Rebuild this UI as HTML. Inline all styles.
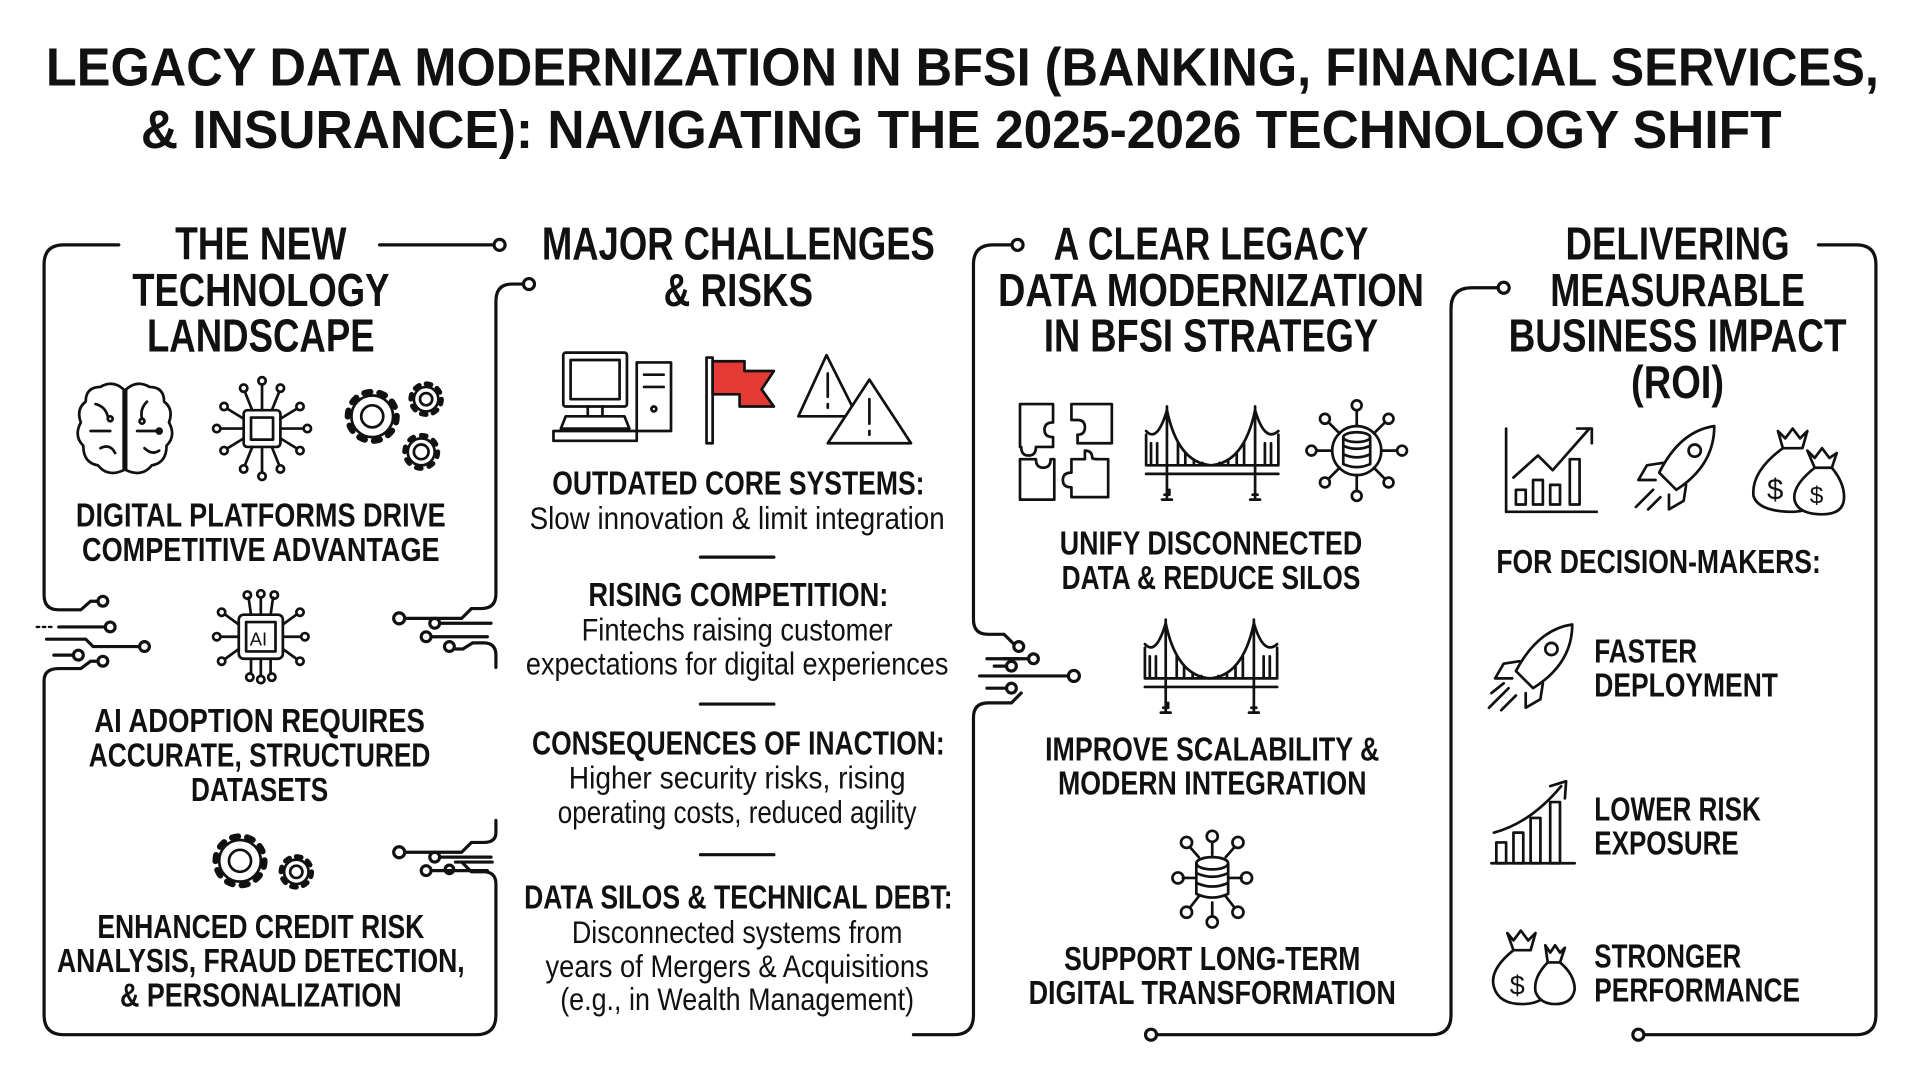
<!DOCTYPE html>
<html><head><meta charset="utf-8"><style>
html,body{margin:0;padding:0;background:#fff;}
svg{display:block;}
text{font-family:"Liberation Sans",sans-serif;fill:#111;}
.h{font-weight:bold;font-size:38px;}
.b{font-weight:bold;font-size:27px;}
.r{font-size:26px;}
.t{font-weight:bold;font-size:44px;}
</style></head><body>
<svg width="1920" height="1080" viewBox="0 0 1568 882" xmlns="http://www.w3.org/2000/svg">
<rect width="1568" height="882" fill="#fff"/>
<text class="t" x="786" y="70" text-anchor="middle" textLength="1497" lengthAdjust="spacingAndGlyphs">LEGACY DATA MODERNIZATION IN BFSI (BANKING, FINANCIAL SERVICES,</text>
<text class="t" x="785" y="121" text-anchor="middle" textLength="1340" lengthAdjust="spacingAndGlyphs">&amp; INSURANCE): NAVIGATING THE 2025-2026 TECHNOLOGY SHIFT</text>

<g fill="none" stroke="#111" stroke-width="2.6" stroke-linecap="round">
<path d="M97,200 H52 Q36,200 36,216 V486 Q36,498 48,498 H66 L74,491 H80"/>
<circle cx="84" cy="491" r="4"/>
<path d="M48,512 H86" /><circle cx="90" cy="512" r="4"/>
<path d="M30,512 H44" stroke-dasharray="2 3" stroke-width="2"/>
<path d="M38,522 H70 L76,528 H114"/><circle cx="118" cy="528" r="4"/>
<path d="M44,535 H60"/><circle cx="64" cy="535" r="4"/>
<path d="M36,568 V556 Q36,546 48,546 H66 L74,540 H80"/><circle cx="84" cy="540" r="4"/>
<path d="M36,568 V829 Q36,845 52,845 H389 Q405,845 405,829 V722 Q405,712 395,712 H385 L377,704"/>
<path d="M310,200 H403"/><circle cx="408" cy="200" r="4.5"/>
<path d="M427,232 H418 Q405,232 405,246 V485 Q405,497 393,497 H385 L377,505 H331"/><circle cx="326" cy="505" r="4.5"/>
<path d="M401,509 H360"/><circle cx="355" cy="509" r="4"/>
<path d="M398,520 H353"/><circle cx="348" cy="520" r="4"/>
<path d="M405,545 V535 Q405,525 395,525 H386 L378,530 H372"/><circle cx="367" cy="528" r="4"/>
<circle cx="432" cy="232" r="4.5"/>
<path d="M405,670 V680 Q405,688 395,688 H385 L377,696 H331"/><circle cx="326" cy="696" r="4.5"/>
<path d="M401,700 H360"/><circle cx="355" cy="700" r="4"/>
<path d="M398,711 H353"/><circle cx="348" cy="711" r="4"/>
<path d="M402,704 H372"/><circle cx="367" cy="710" r="3.5"/>

<circle cx="831" cy="200" r="4.5"/>
<path d="M826,200 H811 Q795,200 795,216 V506 Q795,518 807,518 H820 L828,526"/><circle cx="832" cy="528" r="4"/>
<path d="M806,538 H840"/><circle cx="844" cy="538" r="4"/>
<path d="M812,544 H822"/><circle cx="826" cy="544" r="4"/>
<path d="M800,552 H872"/><circle cx="877" cy="552" r="4.5"/>
<path d="M806,562 H822"/><circle cx="826" cy="562" r="4"/>
<path d="M834,566 L826,574 H807 Q795,574 795,586 V829 Q795,845 779,845 H746"/>
<path d="M820,538 H832"/>

<circle cx="940" cy="845" r="4.5"/>
<path d="M945,845 H1169 Q1185,845 1185,829 V252 Q1185,235 1202,235 H1223"/>
<circle cx="1228" cy="235" r="4.5"/>
<path d="M1485,200 H1516 Q1532,200 1532,216 V829 Q1532,845 1516,845 H1343"/>
<circle cx="1338" cy="845" r="4.5"/>

<path d="M572,455 H632"/><path d="M572,575 H632"/><path d="M572,698 H632"/>
</g>

<text class="h" x="213" y="212" text-anchor="middle" textLength="140" lengthAdjust="spacingAndGlyphs">THE NEW</text>
<text class="h" x="213" y="250" text-anchor="middle" textLength="210" lengthAdjust="spacingAndGlyphs">TECHNOLOGY</text>
<text class="h" x="213" y="287" text-anchor="middle" textLength="186" lengthAdjust="spacingAndGlyphs">LANDSCAPE</text>

<text class="h" x="603" y="212" text-anchor="middle" textLength="321" lengthAdjust="spacingAndGlyphs">MAJOR CHALLENGES</text>
<text class="h" x="603" y="250" text-anchor="middle" textLength="122" lengthAdjust="spacingAndGlyphs">&amp; RISKS</text>

<text class="h" x="989" y="212" text-anchor="middle" textLength="257" lengthAdjust="spacingAndGlyphs">A CLEAR LEGACY</text>
<text class="h" x="989" y="250" text-anchor="middle" textLength="348" lengthAdjust="spacingAndGlyphs">DATA MODERNIZATION</text>
<text class="h" x="989" y="287" text-anchor="middle" textLength="273" lengthAdjust="spacingAndGlyphs">IN BFSI STRATEGY</text>

<text class="h" x="1370" y="212" text-anchor="middle" textLength="183" lengthAdjust="spacingAndGlyphs">DELIVERING</text>
<text class="h" x="1370" y="250" text-anchor="middle" textLength="208" lengthAdjust="spacingAndGlyphs">MEASURABLE</text>
<text class="h" x="1370" y="287" text-anchor="middle" textLength="276" lengthAdjust="spacingAndGlyphs">BUSINESS IMPACT</text>
<text class="h" x="1370" y="325" text-anchor="middle" textLength="76" lengthAdjust="spacingAndGlyphs">(ROI)</text>

<text class="b" x="213" y="430" text-anchor="middle" textLength="302" lengthAdjust="spacingAndGlyphs">DIGITAL PLATFORMS DRIVE</text>
<text class="b" x="213" y="458" text-anchor="middle" textLength="292" lengthAdjust="spacingAndGlyphs">COMPETITIVE ADVANTAGE</text>
<text class="b" x="212" y="598" text-anchor="middle" textLength="270" lengthAdjust="spacingAndGlyphs">AI ADOPTION REQUIRES</text>
<text class="b" x="212" y="626" text-anchor="middle" textLength="279" lengthAdjust="spacingAndGlyphs">ACCURATE, STRUCTURED</text>
<text class="b" x="212" y="654" text-anchor="middle" textLength="112" lengthAdjust="spacingAndGlyphs">DATASETS</text>
<text class="b" x="213" y="766" text-anchor="middle" textLength="267" lengthAdjust="spacingAndGlyphs">ENHANCED CREDIT RISK</text>
<text class="b" x="213" y="794" text-anchor="middle" textLength="333" lengthAdjust="spacingAndGlyphs">ANALYSIS, FRAUD DETECTION,</text>
<text class="b" x="213" y="822" text-anchor="middle" textLength="230" lengthAdjust="spacingAndGlyphs">&amp; PERSONALIZATION</text>

<text class="b" x="603" y="404" text-anchor="middle" textLength="304" lengthAdjust="spacingAndGlyphs">OUTDATED CORE SYSTEMS:</text>
<text class="r" x="602" y="432" text-anchor="middle" textLength="339" lengthAdjust="spacingAndGlyphs">Slow innovation &amp; limit integration</text>
<text class="b" x="603" y="495" text-anchor="middle" textLength="245" lengthAdjust="spacingAndGlyphs">RISING COMPETITION:</text>
<text class="r" x="602" y="523" text-anchor="middle" textLength="254" lengthAdjust="spacingAndGlyphs">Fintechs raising customer</text>
<text class="r" x="602" y="551" text-anchor="middle" textLength="345" lengthAdjust="spacingAndGlyphs">expectations for digital experiences</text>
<text class="b" x="603" y="616" text-anchor="middle" textLength="337" lengthAdjust="spacingAndGlyphs">CONSEQUENCES OF INACTION:</text>
<text class="r" x="602" y="644" text-anchor="middle" textLength="275" lengthAdjust="spacingAndGlyphs">Higher security risks, rising</text>
<text class="r" x="602" y="672" text-anchor="middle" textLength="293" lengthAdjust="spacingAndGlyphs">operating costs, reduced agility</text>
<text class="b" x="603" y="742" text-anchor="middle" textLength="350" lengthAdjust="spacingAndGlyphs">DATA SILOS &amp; TECHNICAL DEBT:</text>
<text class="r" x="602" y="770" text-anchor="middle" textLength="270" lengthAdjust="spacingAndGlyphs">Disconnected systems from</text>
<text class="r" x="602" y="798" text-anchor="middle" textLength="313" lengthAdjust="spacingAndGlyphs">years of Mergers &amp; Acquisitions</text>
<text class="r" x="602" y="825" text-anchor="middle" textLength="289" lengthAdjust="spacingAndGlyphs">(e.g., in Wealth Management)</text>

<text class="b" x="989" y="453" text-anchor="middle" textLength="247" lengthAdjust="spacingAndGlyphs">UNIFY DISCONNECTED</text>
<text class="b" x="989" y="481" text-anchor="middle" textLength="244" lengthAdjust="spacingAndGlyphs">DATA &amp; REDUCE SILOS</text>
<text class="b" x="990" y="621" text-anchor="middle" textLength="273" lengthAdjust="spacingAndGlyphs">IMPROVE SCALABILITY &amp;</text>
<text class="b" x="990" y="649" text-anchor="middle" textLength="252" lengthAdjust="spacingAndGlyphs">MODERN INTEGRATION</text>
<text class="b" x="990" y="792" text-anchor="middle" textLength="242" lengthAdjust="spacingAndGlyphs">SUPPORT LONG-TERM</text>
<text class="b" x="990" y="820" text-anchor="middle" textLength="300" lengthAdjust="spacingAndGlyphs">DIGITAL TRANSFORMATION</text>

<text class="b" x="1222" y="468" textLength="265" lengthAdjust="spacingAndGlyphs">FOR DECISION-MAKERS:</text>
<text class="b" x="1302" y="541" textLength="84" lengthAdjust="spacingAndGlyphs">FASTER</text>
<text class="b" x="1302" y="569" textLength="150" lengthAdjust="spacingAndGlyphs">DEPLOYMENT</text>
<text class="b" x="1302" y="670" textLength="136" lengthAdjust="spacingAndGlyphs">LOWER RISK</text>
<text class="b" x="1302" y="698" textLength="118" lengthAdjust="spacingAndGlyphs">EXPOSURE</text>
<text class="b" x="1302" y="790" textLength="120" lengthAdjust="spacingAndGlyphs">STRONGER</text>
<text class="b" x="1302" y="818" textLength="168" lengthAdjust="spacingAndGlyphs">PERFORMANCE</text>

<g fill="none" stroke="#111" stroke-width="2.2" stroke-linecap="round" stroke-linejoin="round">
<path d="M101,318 Q92,310 82,316 Q70,316 70,328 Q62,334 66,345 Q60,356 68,364 Q68,378 80,380 Q88,390 101,384 Z"/>
<path d="M103,318 Q112,310 122,316 Q134,316 134,328 Q142,334 138,345 Q144,356 136,364 Q136,378 124,380 Q116,390 103,384 Z"/>
<path d="M78,330 Q86,332 88,340 M74,352 H90 M82,366 Q90,362 94,370 M120,328 Q114,334 116,342 M112,352 H130 M118,366 Q124,372 130,368"/>
<circle cx="90" cy="342" r="2"/><circle cx="116" cy="344" r="2"/><circle cx="130" cy="352" r="2"/>
<rect x="199" y="335" width="30" height="30" rx="3"/><rect x="205" y="341" width="18" height="18"/>
<path d="M214,335 V314 M206,335 L200,320 M222,335 L228,320 M214,365 V386 M206,365 L200,380 M222,365 L228,380 M199,350 H180 M229,350 H248 M199,342 L186,334 M199,358 L186,366 M229,342 L242,334 M229,358 L242,366"/>
<circle cx="214" cy="311" r="3"/><circle cx="199" cy="317" r="3"/><circle cx="229" cy="317" r="3"/><circle cx="214" cy="389" r="3"/><circle cx="199" cy="383" r="3"/><circle cx="229" cy="383" r="3"/><circle cx="177" cy="350" r="3"/><circle cx="251" cy="350" r="3"/><circle cx="183" cy="332" r="3"/><circle cx="183" cy="368" r="3"/><circle cx="245" cy="332" r="3"/><circle cx="245" cy="368" r="3"/>
<circle cx="304" cy="340" r="17"/><circle cx="304" cy="340" r="20" stroke-width="5" stroke-dasharray="5 7.5"/><circle cx="304" cy="340" r="9"/>
<circle cx="348" cy="326" r="10"/><circle cx="348" cy="326" r="12.5" stroke-width="4" stroke-dasharray="4 5.8"/><circle cx="348" cy="326" r="5"/>
<circle cx="344" cy="369" r="11"/><circle cx="344" cy="369" r="13.5" stroke-width="4" stroke-dasharray="4 6.6"/><circle cx="344" cy="369" r="6"/>
<rect x="195" y="502" width="36" height="36" rx="4"/><rect x="201" y="508" width="24" height="24"/>
<path d="M213,502 V488 M205,502 L203,488 M221,502 L223,488 M213,538 V552 M205,538 V550 M221,538 V550 M195,520 H180 M231,520 H246 M195,510 L184,502 M195,530 L184,538 M231,510 L242,502 M231,530 L242,538"/>
<circle cx="213" cy="485" r="3"/><circle cx="202" cy="486" r="3"/><circle cx="224" cy="486" r="3"/><circle cx="213" cy="555" r="3"/><circle cx="204" cy="553" r="3"/><circle cx="222" cy="553" r="3"/><circle cx="177" cy="520" r="3"/><circle cx="249" cy="520" r="3"/><circle cx="181" cy="500" r="3"/><circle cx="181" cy="540" r="3"/><circle cx="245" cy="500" r="3"/><circle cx="245" cy="540" r="3"/>
<circle cx="196" cy="703" r="17"/><circle cx="196" cy="703" r="20" stroke-width="5" stroke-dasharray="5 7.5"/><circle cx="196" cy="703" r="9"/>
<circle cx="242" cy="712" r="10"/><circle cx="242" cy="712" r="12.5" stroke-width="4" stroke-dasharray="4 5.8"/><circle cx="242" cy="712" r="5"/>
<rect x="460" y="288" width="52" height="44" rx="2"/><rect x="466" y="294" width="40" height="32"/>
<path d="M480,332 V340 M492,332 V340 M462,340 H510 L514,350 H458 Z M452,352 H520 V360 H452 Z"/>
<rect x="520" y="296" width="28" height="56"/><path d="M526,306 H542 M526,316 H542"/><circle cx="534" cy="334" r="2"/>
<path d="M577,292 V362 H582 V292 Z"/>
<path d="M582,295 H608 V303 H632 L622,318 L632,332 H604 V322 H582 Z" fill="#e53935"/>
<path d="M675,290 L700,340 H652 Z"/><path d="M676,305 V324 M676,330 V333"/>
<path d="M710,310 L744,362 H676 Z" fill="#fff"/><path d="M710,326 V346 M710,352 V355"/>
<path d="M833,330 H860 V345 Q853,345 853,351 Q853,357 860,357 V365 H846 Q846,372 840,372 Q834,372 834,365 H833 Z"/>
<path d="M875,330 H908 V362 H880 V355 Q886,355 886,349 Q886,343 880,343 H875 Z"/>
<path d="M833,375 H846 Q846,382 852,382 Q858,382 858,375 H861 V408 H833 Z"/>
<path d="M875,375 H886 V368 Q892,368 892,374 Q892,375 898,375 H905 V406 H875 V398 Q868,398 868,392 Q868,386 875,386 Z"/>
<g id="br">
<path d="M953,332 V408 M1025,332 V408 M949,408 H957 M1021,408 H1029 M951,404 H955 V400 M1023,404 H1027"/>
<path d="M936,352 Q945,362 953,335 Q962,378 989,380 Q1016,378 1025,335 Q1033,362 1044,352"/>
<path d="M936,380 H1044 M936,387 H1044 M940,362 V380 M945,362 V380 M962,362 V380 M968,370 V380 M975,376 V380 M982,378 V380 M996,378 V380 M1003,376 V380 M1010,370 V380 M1016,362 V380 M1033,362 V380 M1038,362 V380 M1044,355 V380 M936,355 V380"/>
</g>
<use href="#br" transform="translate(-1,174)"/>
<circle cx="1108" cy="368" r="20"/>
<ellipse cx="1108" cy="357" rx="11" ry="4"/><path d="M1097,357 V379 Q1108,384 1119,379 V357 M1097,364 Q1108,369 1119,364 M1097,371 Q1108,376 1119,371"/>
<path d="M1108,348 V335 M1108,388 V401 M1088,368 H1075 M1128,368 H1141 M1094,354 L1085,345 M1122,354 L1131,345 M1094,382 L1085,391 M1122,382 L1131,391"/>
<circle cx="1108" cy="331" r="4"/><circle cx="1108" cy="405" r="4"/><circle cx="1071" cy="368" r="4"/><circle cx="1145" cy="368" r="4"/><circle cx="1082" cy="342" r="4"/><circle cx="1134" cy="342" r="4"/><circle cx="1082" cy="394" r="4"/><circle cx="1134" cy="394" r="4"/>
<ellipse cx="990" cy="705" rx="13" ry="5"/><path d="M977,705 V730 Q990,736 1003,730 V705 M977,713 Q990,719 1003,713 M977,721 Q990,727 1003,721"/>
<path d="M990,698 V688 M990,737 V748 M977,717 H966 M1003,717 H1014 M979,700 L972,692 M1001,700 L1008,692 M979,732 L972,741 M1001,732 L1008,741"/>
<circle cx="990" cy="683" r="4.5"/><circle cx="990" cy="753" r="4.5"/><circle cx="962" cy="717" r="4.5"/><circle cx="1018" cy="717" r="4.5"/><circle cx="969" cy="688" r="4.5"/><circle cx="1011" cy="688" r="4.5"/><circle cx="969" cy="745" r="4.5"/><circle cx="1011" cy="745" r="4.5"/>
<path d="M1230,350 V418 H1304"/>
<rect x="1238" y="400" width="8" height="12"/><rect x="1252" y="392" width="8" height="20"/><rect x="1266" y="396" width="8" height="16"/><rect x="1282" y="375" width="8" height="37"/>
<path d="M1236,390 L1256,372 L1268,384 L1298,350 M1288,350 H1300 V362"/>
<path d="M1400,348 Q1372,352 1355,386 L1369,400 Q1400,380 1400,348 Z"/><circle cx="1384" cy="368" r="5"/>
<path d="M1358,378 L1345,380 L1338,392 L1352,392 M1377,396 L1375,409 L1363,416 L1363,404 M1350,400 L1336,414 M1356,406 L1346,416"/>
<path d="M1452,352 L1458,358 L1464,350 L1470,358 L1476,352 L1472,366 H1456 Z M1456,366 Q1430,385 1432,405 Q1436,418 1465,418 Q1490,416 1488,400"/>
<text x="1443" y="408" font-size="24" font-weight="normal" stroke="none">$</text>
<path d="M1476,368 L1482,374 L1488,366 L1494,374 L1500,370 L1496,382 H1482 Z M1482,382 Q1462,398 1466,410 Q1470,420 1488,420 Q1506,420 1506,406 Q1506,394 1496,382" fill="#fff"/>
<text x="1478" y="411" font-size="20" stroke="none">$</text>
<path d="M1284,510 Q1256,514 1238,548 L1252,562 Q1284,542 1284,510 Z"/><circle cx="1267" cy="530" r="5"/>
<path d="M1241,540 L1228,542 L1221,554 L1235,554 M1260,558 L1258,571 L1246,578 L1246,566 M1232,562 L1216,578 M1238,568 L1226,580 M1228,558 L1218,566"/>
<path d="M1218,705 H1286"/>
<rect x="1222" y="688" width="8" height="17"/><rect x="1236" y="680" width="8" height="25"/><rect x="1250" y="668" width="8" height="37"/><rect x="1266" y="655" width="8" height="50"/>
<path d="M1220,680 Q1250,672 1275,642 M1266,642 L1279,638 L1278,652"/>
<path d="M1231,762 L1236,768 L1242,760 L1248,768 L1254,762 L1250,776 H1236 Z M1236,776 Q1216,792 1220,806 Q1224,820 1243,820 Q1262,820 1266,806"/>
<text x="1233" y="812" font-size="22" stroke="none">$</text>
<path d="M1262,772 L1266,778 L1270,772 L1274,778 L1278,774 L1274,786 H1264 Z M1264,786 Q1252,798 1254,810 Q1258,820 1270,820 Q1284,820 1286,808 Q1286,796 1274,786" fill="#fff"/>
</g>
<text x="204" y="527" font-size="15" font-family="Liberation Sans">AI</text>
</svg>
</body></html>
